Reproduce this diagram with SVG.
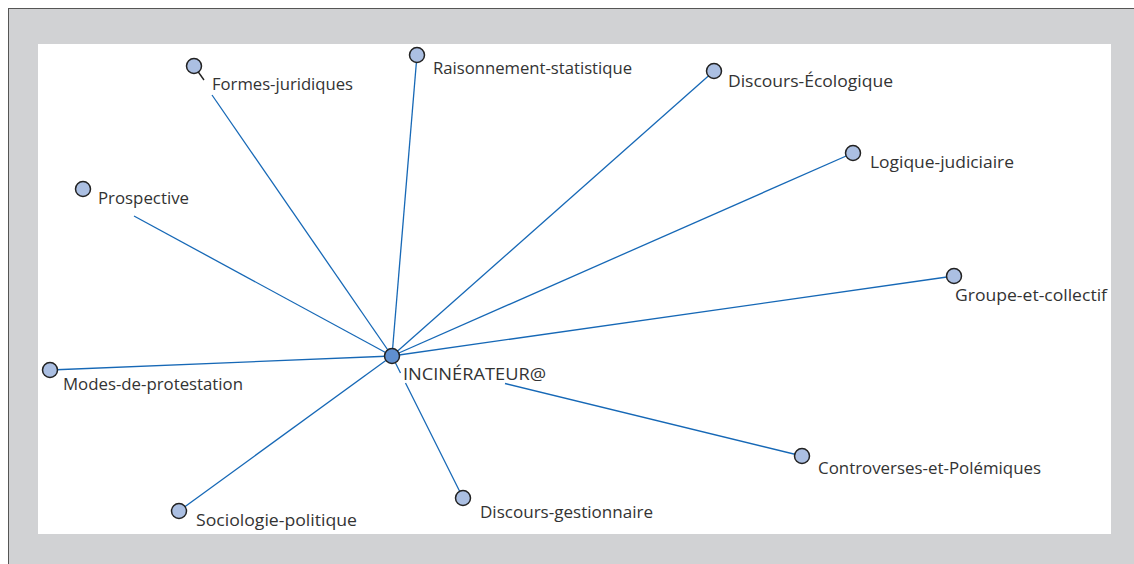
<svg xmlns="http://www.w3.org/2000/svg" width="1134" height="564" viewBox="0 0 1134 564">
<style>
.e{stroke:#1668b6;stroke-width:1.3;fill:none}
.t{stroke:#222;stroke-width:1.4;fill:none}
.n{fill:#abbfe2;stroke:#222;stroke-width:1.5}
.c{fill:#5f8fcf;stroke:#222;stroke-width:1.5}
text{font-family:"Open Sans","Liberation Sans",sans-serif;font-size:16px;fill:#333}
</style>
<rect x="8.5" y="8.5" width="1140" height="570" fill="#d1d2d4" stroke="#555" stroke-width="1"/>
<rect x="38" y="44" width="1073" height="490" fill="#fff"/>
<g id="connectors">
<line class="e" x1="212" y1="95" x2="392" y2="356"/>
<line class="t" x1="194" y1="66" x2="204" y2="80"/>
<line class="e" x1="417" y1="55" x2="392" y2="356"/>
<line class="e" x1="714" y1="71" x2="392" y2="356"/>
<line class="e" x1="853" y1="153" x2="392" y2="356"/>
<line class="e" x1="954" y1="276" x2="392" y2="356"/>
<line class="e" x1="505" y1="383.5" x2="802" y2="456"/>
<line class="e" x1="392" y1="356" x2="400.5" y2="373"/>
<line class="e" x1="405.5" y1="383" x2="463" y2="498"/>
<line class="e" x1="179" y1="511" x2="392" y2="356"/>
<line class="e" x1="50" y1="370" x2="392" y2="356"/>
<line class="e" x1="134" y1="216" x2="392" y2="356"/>
</g>
<g id="n-formes"><circle class="n" cx="194" cy="66" r="7.5"/><text x="212" y="90" textLength="141" lengthAdjust="spacingAndGlyphs">Formes-juridiques</text></g>
<g id="n-prospective"><circle class="n" cx="83" cy="189" r="7.5"/><text x="98" y="204" textLength="91" lengthAdjust="spacingAndGlyphs">Prospective</text></g>
<g id="n-raisonnement"><circle class="n" cx="417" cy="55" r="7.5"/><text x="433" y="74" textLength="199" lengthAdjust="spacingAndGlyphs">Raisonnement-statistique</text></g>
<g id="n-ecologique"><circle class="n" cx="714" cy="71" r="7.5"/><text x="728" y="87" textLength="165" lengthAdjust="spacingAndGlyphs">Discours-Écologique</text></g>
<g id="n-logique"><circle class="n" cx="853" cy="153" r="7.5"/><text x="870" y="168" textLength="144" lengthAdjust="spacingAndGlyphs">Logique-judiciaire</text></g>
<g id="n-groupe"><circle class="n" cx="954" cy="276" r="7.5"/><text x="955" y="301" textLength="152" lengthAdjust="spacingAndGlyphs">Groupe-et-collectif</text></g>
<g id="n-modes"><circle class="n" cx="50" cy="370" r="7.5"/><text x="63" y="390" textLength="180" lengthAdjust="spacingAndGlyphs">Modes-de-protestation</text></g>
<g id="n-sociologie"><circle class="n" cx="179" cy="511" r="7.5"/><text x="196" y="526" textLength="161" lengthAdjust="spacingAndGlyphs">Sociologie-politique</text></g>
<g id="n-gestionnaire"><circle class="n" cx="463" cy="498" r="7.5"/><text x="480" y="518" textLength="173" lengthAdjust="spacingAndGlyphs">Discours-gestionnaire</text></g>
<g id="n-controverses"><circle class="n" cx="802" cy="456" r="7.5"/><text x="818" y="474" textLength="223" lengthAdjust="spacingAndGlyphs">Controverses-et-Polémiques</text></g>
<g id="n-incinerateur"><circle class="c" cx="392" cy="356" r="7.5"/><text x="403" y="380" textLength="143" lengthAdjust="spacingAndGlyphs">INCINÉRATEUR@</text></g>
</svg>
